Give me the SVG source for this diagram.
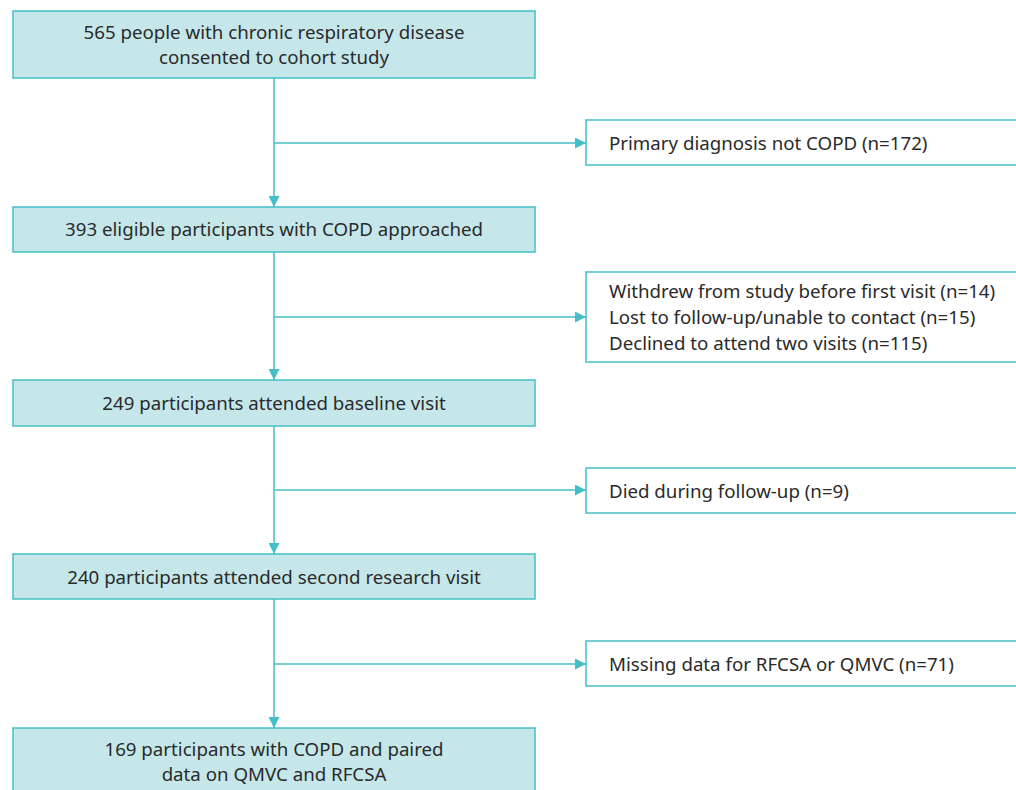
<svg xmlns="http://www.w3.org/2000/svg" width="1016" height="790" viewBox="0 0 1016 790">
<defs>
<style>
.main rect{fill:#c5e7ea;stroke:#45bfc7;stroke-width:1.5}
.side rect{fill:#ffffff;stroke:#45bfc7;stroke-width:1.5}
text{font-family:"Noto Sans","Liberation Sans",sans-serif;font-size:18.7px;fill:#2a2a2a}
.c{text-anchor:middle}
.conn path{fill:none;stroke:#45bfc7;stroke-width:1.5}
</style>
<marker id="ah" viewBox="0 0 10 10" refX="10" refY="5" markerWidth="11" markerHeight="11" markerUnits="userSpaceOnUse" orient="auto">
<path d="M0,0 L10,5 L0,10 Z" fill="#45bfc7"/>
</marker>
</defs>
<g class="conn">
<path d="M274,78 V207" marker-end="url(#ah)"/>
<path d="M274,143 H586" marker-end="url(#ah)"/>
<path d="M274,252 V380" marker-end="url(#ah)"/>
<path d="M274,317 H586" marker-end="url(#ah)"/>
<path d="M274,426 V554" marker-end="url(#ah)"/>
<path d="M274,490 H586" marker-end="url(#ah)"/>
<path d="M274,599 V728" marker-end="url(#ah)"/>
<path d="M274,664 H586" marker-end="url(#ah)"/>
</g>
<g id="n1" class="main"><rect x="13" y="11" width="522" height="67"/>
<text class="c" x="274" y="39">565 people with chronic respiratory disease</text>
<text class="c" x="274" y="64">consented to cohort study</text></g>
<g id="n2" class="main"><rect x="13" y="207" width="522" height="45"/>
<text class="c" x="274" y="236">393 eligible participants with COPD approached</text></g>
<g id="n3" class="main"><rect x="13" y="380" width="522" height="46"/>
<text class="c" x="274" y="410">249 participants attended baseline visit</text></g>
<g id="n4" class="main"><rect x="13" y="554" width="522" height="45"/>
<text class="c" x="274" y="584">240 participants attended second research visit</text></g>
<g id="n5" class="main"><rect x="13" y="728" width="522" height="70"/>
<text class="c" x="274" y="756">169 participants with COPD and paired</text>
<text class="c" x="274" y="781">data on QMVC and RFCSA</text></g>
<g id="s1" class="side"><rect x="586" y="120" width="440" height="45"/>
<text x="609" y="150">Primary diagnosis not COPD (n=172)</text></g>
<g id="s2" class="side"><rect x="586" y="272" width="440" height="90"/>
<text x="609" y="298">Withdrew from study before first visit (n=14)</text>
<text x="609" y="324">Lost to follow-up/unable to contact (n=15)</text>
<text x="609" y="350">Declined to attend two visits (n=115)</text></g>
<g id="s3" class="side"><rect x="586" y="468" width="440" height="45"/>
<text x="609" y="498">Died during follow-up (n=9)</text></g>
<g id="s4" class="side"><rect x="586" y="641" width="440" height="45"/>
<text x="609" y="671">Missing data for RFCSA or QMVC (n=71)</text></g>
</svg>
